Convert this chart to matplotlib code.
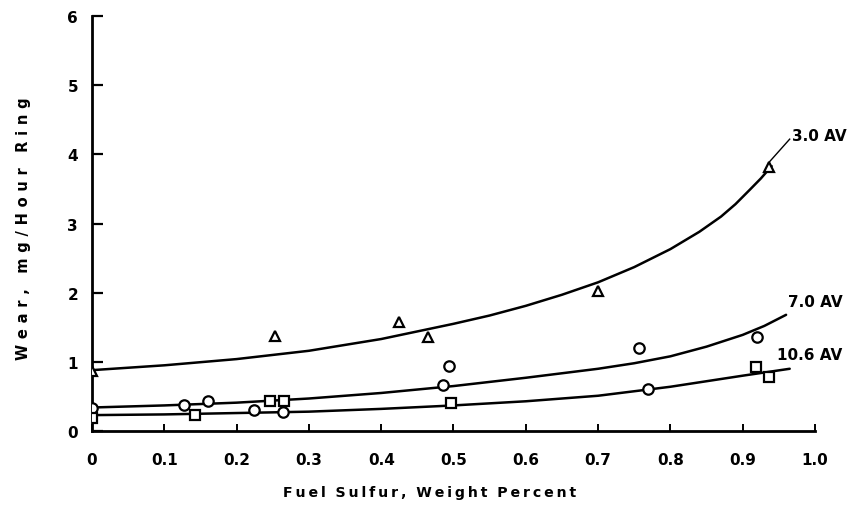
"""
Wear vs fuel sulfur for three AV levels (scanned chart recreation)
"""

import matplotlib
matplotlib.use('Agg')
import matplotlib.pyplot as plt

# measured points
tri_x = [0.0, 0.253, 0.425, 0.465, 0.70, 0.936]
tri_y = [0.87, 1.37, 1.57, 1.36, 2.03, 3.82]

circ_x = [0.0, 0.127, 0.16, 0.224, 0.264, 0.485, 0.494, 0.757, 0.769, 0.92]
circ_y = [0.34, 0.37, 0.43, 0.30, 0.28, 0.66, 0.94, 1.20, 0.61, 1.36]

sq_x = [0.0, 0.142, 0.246, 0.265, 0.497, 0.918, 0.936]
sq_y = [0.19, 0.23, 0.44, 0.43, 0.40, 0.92, 0.78]

# fitted curves
c30_x = [0.0, 0.1, 0.2, 0.3, 0.4, 0.5, 0.55, 0.6, 0.65, 0.7, 0.75, 0.8,
         0.84, 0.87, 0.89, 0.91, 0.925, 0.94]
c30_y = [0.88, 0.95, 1.04, 1.16, 1.33, 1.55, 1.67, 1.81, 1.97, 2.15, 2.37, 2.63,
         2.88, 3.10, 3.28, 3.49, 3.65, 3.83]

c70_x = [0.0, 0.1, 0.2, 0.3, 0.4, 0.5, 0.6, 0.7, 0.75, 0.8, 0.85, 0.9, 0.93, 0.96]
c70_y = [0.34, 0.37, 0.41, 0.47, 0.55, 0.65, 0.77, 0.90, 0.98, 1.08, 1.22, 1.39, 1.52, 1.68]

c106_x = [0.0, 0.1, 0.2, 0.3, 0.4, 0.5, 0.6, 0.7, 0.8, 0.9, 0.965]
c106_y = [0.23, 0.24, 0.26, 0.28, 0.32, 0.37, 0.43, 0.51, 0.64, 0.80, 0.90]

xticks = [0.0, 0.1, 0.2, 0.3, 0.4, 0.5, 0.6, 0.7, 0.8, 0.9, 1.0]
xlabels = ['0', '0.1', '0.2', '0.3', '0.4', '0.5', '0.6', '0.7', '0.8', '0.9', '1.0']
yticks = [0, 1, 2, 3, 4, 5, 6]


def spaced(s, gap='\u2009'):
    # typewriter-like letter spacing with thin spaces
    return gap.join(s)


def main():
    fig = plt.figure(figsize=(8.51, 5.06), dpi=100)
    ax = fig.add_axes([0.1081, 0.1462, 0.8496, 0.8202])

    for cx, cy in [(c30_x, c30_y), (c70_x, c70_y), (c106_x, c106_y)]:
        ax.plot(cx, cy, color='black', lw=1.8, solid_capstyle='round')

    mk = dict(linestyle='none', mfc='white', mec='black', mew=1.6, ms=7.5, zorder=3)
    ax.plot(tri_x, tri_y, marker='^', **mk)
    ax.plot(circ_x, circ_y, marker='o', **mk)
    ax.plot(sq_x, sq_y, marker='s', **mk)

    # leader line + curve labels
    ax.plot([0.936, 0.965], [3.88, 4.22], color='black', lw=1.0, clip_on=False)
    txt = dict(fontsize=11, fontweight='bold', ha='left', va='center', family='DejaVu Sans Condensed')
    ax.text(0.968, 4.27, '3.0 AV', **txt)
    ax.text(0.962, 1.87, '7.0 AV', **txt)
    ax.text(0.947, 1.10, '10.6 AV', **txt)

    ax.set_xlim(0, 1.0)
    ax.set_ylim(0, 6)
    ax.set_xticks(xticks)
    ax.set_xticklabels(xlabels)
    ax.set_yticks(yticks)

    for s in ['top', 'right']:
        ax.spines[s].set_visible(False)
    for s in ['left', 'bottom']:
        ax.spines[s].set_linewidth(2.0)

    ax.tick_params(axis='x', direction='in', length=5, width=1.4, pad=15, labelsize=11)
    ax.tick_params(axis='y', direction='in', length=8, width=1.6, pad=10, labelsize=11)
    for lab in ax.get_xticklabels() + ax.get_yticklabels():
        lab.set_fontweight('bold')
        lab.set_family('DejaVu Sans Condensed')

    ax.set_xlabel('  '.join(spaced(w) for w in 'Fuel Sulfur, Weight Percent'.split()),
                  fontsize=10.2, fontweight='bold', labelpad=13)
    ax.xaxis.label.set_x(0.467)
    ax.set_ylabel('   '.join(spaced(w, '\u2009\u2009') for w in 'Wear, mg/Hour Ring'.split()),
                  fontsize=10.5, fontweight='bold', labelpad=26)
    ax.yaxis.label.set_y(0.49)

    fig.savefig('out.png', dpi=100)


if __name__ == '__main__':
    main()
